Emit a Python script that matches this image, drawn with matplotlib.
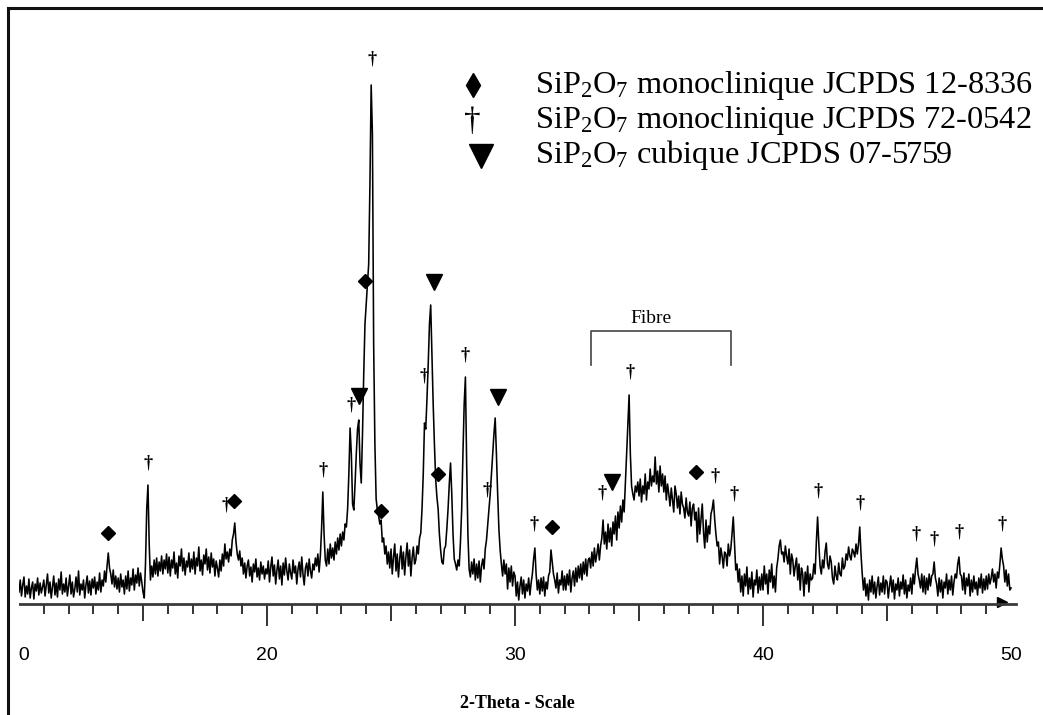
import matplotlib
matplotlib.use("Agg")
import matplotlib.pyplot as plt
import numpy as np
from matplotlib.lines import Line2D
from matplotlib.patches import Rectangle

# XRD scan, 10 -> 50 deg 2-theta, step 0.05 (counts, one row per degree)
scan_start = 10.0
scan_step = 0.05
counts = [
    12, 24, 8, 19, 27, 7, 18, 10, 25, 6, 16, 22, 5, 20, 13, 26, 9, 21, 11, 17,
    24, 8, 19, 30, 11, 22, 6, 17, 28, 9, 21, 7, 25, 14, 32, 10, 20, 12, 26, 8,
    18, 29, 10, 22, 7, 15, 27, 12, 33, 9, 20, 14, 24, 6, 19, 28, 11, 23, 9, 25,
    16, 27, 10, 22, 14, 31, 12, 24, 18, 33, 22, 38, 51, 36, 30, 20, 34, 17, 28, 15,
    26, 12, 30, 17, 24, 10, 28, 15, 33, 13, 26, 19, 35, 14, 29, 21, 36, 18, 31, 22,
    12, 6, 40, 95, 119, 60, 24, 38, 27, 44, 30, 46, 28, 42, 33, 48, 30, 44, 35, 50,
    31, 47, 28, 44, 36, 52, 30, 41, 26, 48, 38, 55, 33, 46, 29, 43, 37, 51, 32, 45,
    35, 52, 30, 46, 38, 57, 33, 44, 29, 49, 40, 55, 34, 47, 31, 51, 37, 45, 28, 43,
    36, 27, 44, 33, 50, 38, 60, 45, 52, 42, 55, 48, 64, 70, 81, 62, 50, 44, 53, 38,
    46, 30, 41, 26, 38, 44, 28, 37, 22, 40, 32, 45, 27, 36, 24, 42, 30, 38, 25, 35,
    30, 43, 22, 37, 47, 28, 39, 20, 34, 44, 25, 38, 19, 41, 29, 46, 33, 24, 40, 31,
    25, 44, 31, 38, 20, 35, 42, 27, 47, 30, 19, 36, 41, 28, 45, 33, 26, 40, 34, 46,
    38, 50, 32, 48, 75, 112, 70, 44, 38, 55, 40, 60, 46, 56, 44, 62, 50, 66, 54, 70,
    58, 72, 64, 80, 77, 95, 130, 176, 150, 100, 94, 120, 150, 175, 184, 140, 121, 170, 230, 280,
    300, 320, 340, 420, 519, 470, 260, 160, 105, 94, 88, 80, 84, 62, 66, 50, 58, 40, 52, 36,
    55, 30, 47, 60, 33, 50, 27, 45, 58, 35, 52, 29, 47, 61, 38, 54, 28, 46, 57, 40,
    44, 58, 50, 66, 71, 95, 130, 181, 175, 205, 240, 280, 299, 250, 200, 160, 125, 107, 95, 70,
    54, 42, 40, 55, 58, 75, 95, 120, 141, 110, 70, 45, 40, 34, 44, 38, 62, 95, 150, 200,
    227, 140, 70, 35, 27, 42, 30, 45, 24, 40, 26, 43, 22, 38, 45, 35, 55, 64, 80, 95,
    110, 130, 150, 170, 186, 150, 110, 75, 54, 40, 28, 44, 30, 40, 15, 36, 22, 38, 18, 32,
    28, 8, 22, 4, 18, 27, 10, 24, 6, 20, 13, 26, 9, 21, 30, 45, 56, 30, 14, 24,
    10, 26, 13, 27, 8, 22, 15, 28, 32, 54, 42, 30, 24, 16, 31, 11, 24, 19, 33, 14,
    28, 14, 30, 19, 34, 12, 26, 33, 18, 36, 22, 38, 26, 40, 24, 42, 30, 45, 28, 44,
    46, 36, 52, 38, 56, 42, 50, 60, 44, 58, 66, 84, 60, 72, 55, 80, 62, 76, 58, 82,
    70, 88, 64, 92, 76, 98, 82, 104, 92, 120, 150, 180, 209, 150, 118, 110, 104, 118, 112, 122,
    108, 125, 102, 118, 110, 130, 104, 122, 115, 135, 118, 128, 122, 147, 120, 133, 112, 138, 118, 130,
    112, 128, 104, 120, 110, 98, 116, 104, 92, 118, 110, 96, 108, 90, 112, 100, 96, 86, 106, 92,
    88, 102, 78, 96, 100, 84, 92, 62, 96, 70, 85, 100, 72, 56, 84, 62, 78, 70, 90, 95,
    104, 85, 70, 58, 62, 40, 56, 48, 36, 52, 50, 38, 60, 48, 55, 70, 87, 60, 34, 40,
    22, 35, 12, 28, 8, 30, 18, 37, 10, 26, 15, 32, 7, 24, 19, 34, 11, 27, 14, 30,
    14, 38, 20, 30, 10, 34, 22, 40, 16, 28, 12, 36, 45, 58, 64, 50, 52, 42, 58, 48,
    40, 55, 30, 50, 44, 28, 38, 46, 24, 40, 14, 36, 30, 8, 32, 20, 38, 12, 30, 24,
    26, 40, 30, 62, 87, 60, 38, 30, 44, 36, 52, 61, 40, 35, 48, 42, 26, 20, 38, 28,
    24, 41, 30, 28, 46, 35, 38, 50, 44, 57, 48, 44, 55, 52, 47, 60, 50, 60, 77, 50,
    30, 14, 26, 8, 20, 4, 24, 12, 28, 10, 22, 6, 18, 27, 9, 21, 12, 28, 10, 24,
    22, 6, 18, 28, 12, 24, 5, 20, 14, 26, 8, 22, 15, 29, 10, 24, 6, 19, 13, 26,
    10, 30, 20, 35, 46, 30, 24, 16, 30, 12, 28, 10, 26, 14, 30, 18, 28, 30, 42, 26,
    20, 8, 26, 12, 24, 6, 22, 16, 30, 10, 24, 14, 28, 9, 22, 30, 26, 40, 47, 30,
    28, 14, 31, 10, 26, 18, 30, 8, 24, 12, 28, 15, 22, 9, 26, 16, 30, 11, 25, 14,
    28, 15, 30, 20, 26, 35, 22, 30, 16, 32, 26, 40, 56, 45, 38, 22, 34, 18, 30, 14,
    16,
]
two_theta = scan_start + scan_step * np.arange(len(counts))

# phase markers (position, height)
diamond_2theta = [13.6, 18.67, 23.95, 24.6, 26.9, 31.49, 37.3]
diamond_y = [71, 103, 323, 93, 130, 77, 132]
dagger_2theta = [15.2, 18.35, 22.26, 23.39, 24.23, 26.33, 27.98, 28.87, 30.77,
                 33.5, 34.64, 38.06, 38.83, 42.2, 43.9, 46.17, 46.9, 47.9, 49.64]
dagger_y = [141, 99, 134, 199, 545, 228, 249, 114, 80,
            111, 232, 128, 110, 113, 101, 70, 65, 72, 80]
triangle_2theta = [23.71, 26.73, 29.31, 33.91]
triangle_y = [208, 322, 207, 122]

fibre_range = [33.06, 38.7]
fibre_top = 273
fibre_leg = 239

legend_labels = [
    r"SiP$_\mathrm{2}$O$_\mathrm{7}$ monoclinique JCPDS 12-8336",
    r"SiP$_\mathrm{2}$O$_\mathrm{7}$ monoclinique JCPDS 72-0542",
    r"SiP$_\mathrm{2}$O$_\mathrm{7}$ cubique JCPDS 07-5759",
]

x_major = [10, 20, 30, 40, 50]
x_mid = [15, 25, 35, 45]
x_minor = [v for v in range(11, 50) if v % 5]

serif = "Liberation Serif"
plt.rcParams["mathtext.fontset"] = "custom"
plt.rcParams["mathtext.rm"] = serif
plt.rcParams["mathtext.it"] = serif + ":italic"

W, H = 1043, 715
fig = plt.figure(figsize=(W / 100, H / 100), dpi=100)
ax = fig.add_axes([19 / W, (H - 604) / H, (1016 - 19) / W, (604 - 10) / H])

ax.plot(two_theta, counts, color="black", lw=1.15)
ax.set_xlim(10, 50.2)
ax.set_ylim(0, 594)

for s in ["left", "right", "top"]:
    ax.spines[s].set_visible(False)
ax.spines["bottom"].set_linewidth(2)
ax.spines["bottom"].set_color("#3a3a3a")
ax.set_yticks([])

tick_col = "#333333"
ax.set_xticks(x_major)
ax.set_xticklabels([str(v) for v in x_major], family="Liberation Sans", fontsize=14)
ax.set_xticks(x_minor, minor=True)
ax.tick_params(axis="x", which="major", length=16, width=1.4, color=tick_col, pad=15)
ax.tick_params(axis="x", which="minor", length=7, width=1.4, color=tick_col)
major_ticks = ax.xaxis.get_major_ticks()
major_ticks[0].tick1line.set_visible(False)
major_ticks[-1].tick1line.set_visible(False)

sec = ax.secondary_xaxis("bottom")
sec.set_xticks(x_mid)
sec.set_xticklabels([])
sec.tick_params(length=12, width=1.4, color=tick_col)
sec.spines["bottom"].set_visible(False)

ax.set_xlabel("2-Theta - Scale", family=serif, fontweight="bold", fontsize=13, labelpad=22)

# end arrow on the axis
ax.plot([49.65], [2.5], marker=">", ms=7, color="black", clip_on=False)

# phase markers
ax.plot(diamond_2theta, diamond_y, "D", ms=7, color="black", ls="none")
ax.plot(triangle_2theta, triangle_y, "v", ms=11, color="black", ls="none")
for x, y in zip(dagger_2theta, dagger_y):
    ax.text(x, y, "\u2020", family=serif, fontsize=13, fontweight="bold",
            ha="center", va="center", color="black")

# fibre bracket
ax.plot([fibre_range[0], fibre_range[0], fibre_range[1], fibre_range[1]],
        [fibre_leg, fibre_top, fibre_top, fibre_leg], color="#444444", lw=1.2)
ax.text(sum(fibre_range) / 2 - 0.4, fibre_top + 8, "Fibre", family=serif, fontsize=14,
        ha="center", va="baseline")

# legend, drawn by hand
row_base = [93, 128, 163]
sym_y = [85, 122, 156]
for lab, yb in zip(legend_labels, row_base):
    fig.text(535 / W, (H - yb) / H, lab, family=serif, fontsize=23.3, va="baseline", ha="left")
fig.add_artist(Line2D([473 / W], [(H - sym_y[0]) / H], marker="d", ms=12, color="black"))
fig.text(472 / W, (H - sym_y[1]) / H, "\u2020", family=serif, fontsize=24, ha="center", va="center")
fig.add_artist(Line2D([481 / W], [(H - sym_y[2]) / H], marker="v", ms=17, color="black"))

# picture frame (left and top) and the cropped "1" of the first label
fig.add_artist(Rectangle((0, 0), 19 / W, 0.2, transform=fig.transFigure,
                         facecolor="white", edgecolor="none", zorder=10))
fig.add_artist(Line2D([8 / W, 8 / W], [0, (H - 8) / H], color="#111111", lw=2.2, zorder=11))
fig.add_artist(Line2D([8 / W, 1], [(H - 8) / H, (H - 8) / H], color="#111111", lw=2.2, zorder=11))

fig.savefig("out.png", dpi=100)
